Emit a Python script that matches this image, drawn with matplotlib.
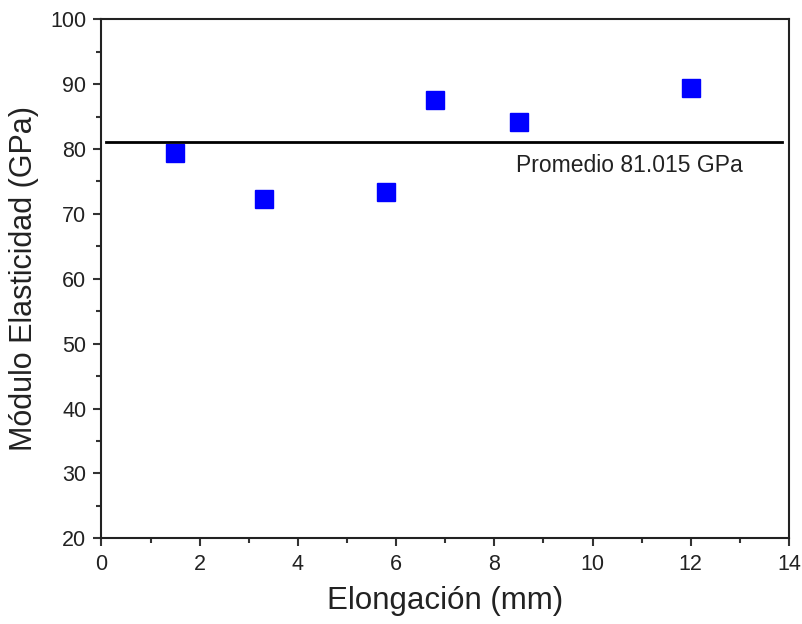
import matplotlib.pyplot as plt
from matplotlib.ticker import MultipleLocator

# elongation (mm) and elastic modulus (GPa) per specimen
elongacion = [1.5, 3.3, 5.8, 6.8, 8.5, 12.0]
modulo = [79.4, 72.3, 73.4, 87.6, 84.1, 89.4]
promedio = 81.015
etiqueta_promedio = "Promedio 81.015 GPa"

plt.rcParams["font.family"] = ["Liberation Sans", "DejaVu Sans"]

fig = plt.figure(figsize=(8.03, 6.24), dpi=100)
ax = fig.add_axes([0.1264, 0.1373, 0.8562, 0.8318])

ax.plot(elongacion, modulo, linestyle="none", marker="s", markersize=13.5,
        color="#0000ff", markeredgecolor="#0000ff")
ax.plot([0.1, 13.85], [promedio, promedio], color="black", linewidth=2)
ax.text(8.44, promedio - 3.6, etiqueta_promedio, fontsize=16.5,
        color="#222222", ha="left", va="center")

ax.set_xlim(0, 14)
ax.set_ylim(20, 100)
ax.xaxis.set_major_locator(MultipleLocator(2))
ax.xaxis.set_minor_locator(MultipleLocator(1))
ax.yaxis.set_major_locator(MultipleLocator(10))
ax.yaxis.set_minor_locator(MultipleLocator(5))

ax.tick_params(which="major", direction="out", length=6, width=1.5,
               colors="#333333", labelsize=15.5, labelcolor="#222222", pad=5)
ax.tick_params(which="minor", direction="out", length=3.5, width=1.5,
               colors="#333333")
for side in ax.spines.values():
    side.set_linewidth(1.5)
    side.set_color("#222222")

ax.set_xlabel("Elongación (mm)", fontsize=22.5, color="#222222", labelpad=8)
ax.set_ylabel("Módulo Elasticidad (GPa)", fontsize=22, color="#222222",
              labelpad=8)

fig.savefig("out.png", dpi=100, facecolor="white")
